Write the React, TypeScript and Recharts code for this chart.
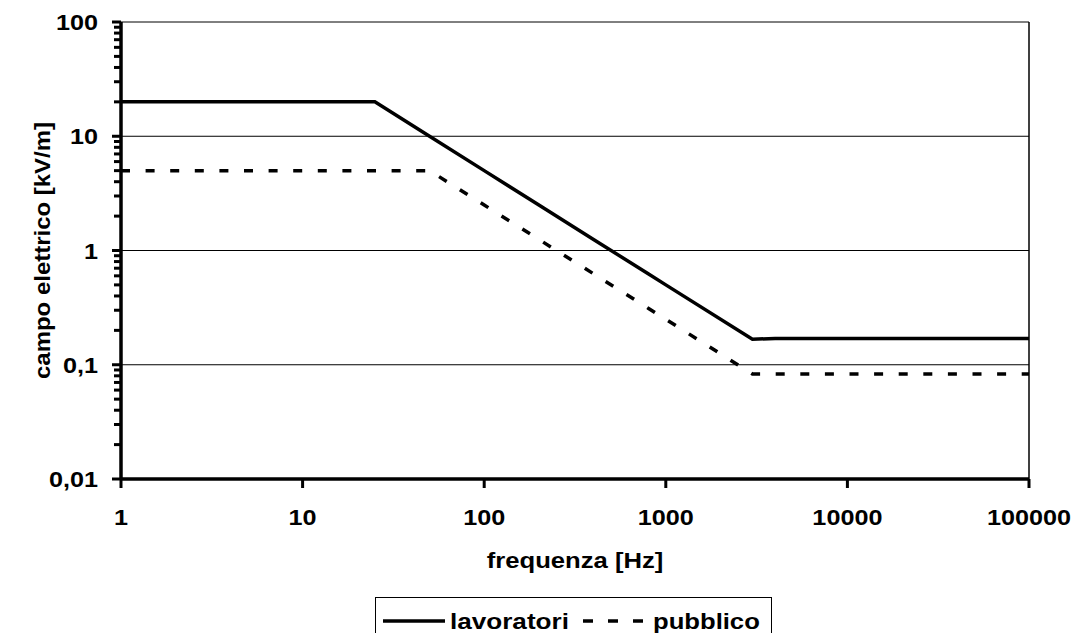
import React from 'react';
import { LineChart, Line, XAxis, YAxis, ReferenceLine } from 'recharts';

// ---- data ----
const frequencies = [1, 25, 50, 100, 200, 400, 800, 1000, 3000, 4000, 100000];
const lavoratori = [20, 20, 10, 5, 2.5, 1.25, 0.625, 0.5, 0.167, 0.17, 0.17];
const pubblico = [5, 5, 5, 2.5, 1.25, 0.625, 0.3125, 0.25, 0.083, 0.083, 0.083];
const seriesNames = ['lavoratori', 'pubblico'];
const xTicks = [1, 10, 100, 1000, 10000, 100000];
const yMajorTicks = [0.01, 0.1, 1, 10, 100];
const yMinorMultipliers = [2, 3, 4, 5, 6, 7, 8, 9];
const gridValues = [0.1, 1, 10, 100];
const xTitle = 'frequenza [Hz]';
const yTitle = 'campo elettrico [kV/m]';

const data = frequencies.map((f, i) => ({ f, lav: lavoratori[i], pub: pubblico[i] }));

const yAllTicks: number[] = [];
yMajorTicks.forEach((t, i) => {
  yAllTicks.push(t);
  if (i < yMajorTicks.length - 1) {
    yMinorMultipliers.forEach((m) => yAllTicks.push(parseFloat((t * m).toPrecision(6))));
  }
});

const FONT = '"Liberation Sans", Arial, Helvetica, sans-serif';
const FS = 22.5;
const SX = 1.12;

const isMajor = (v: number) => yMajorTicks.some((t) => Math.abs(t - v) / t < 1e-6);
const fmt = (v: number) => String(v).replace('.', ',');

const YTick = (props: any) => {
  const { x, y, payload } = props;
  const v = payload.value;
  const major = isMajor(v);
  return (
    <g>
      <line x1={x - (major ? 9 : 7)} x2={x} y1={y} y2={y} stroke="#000" strokeWidth={3} />
      {major && (
        <text
          transform={`translate(${x - 23},${y + 8}) scale(${SX},1)`}
          textAnchor="end"
          fontFamily={FONT}
          fontWeight="bold"
          fontSize={FS}
          fill="#000"
        >
          {fmt(v)}
        </text>
      )}
    </g>
  );
};

const XTick = (props: any) => {
  const { x, y, payload } = props;
  return (
    <g>
      <line x1={x} x2={x} y1={y} y2={y + 9} stroke="#000" strokeWidth={3} />
      <text
        transform={`translate(${x},${y + 46}) scale(${SX},1)`}
        textAnchor="middle"
        fontFamily={FONT}
        fontWeight="bold"
        fontSize={FS}
        fill="#000"
      >
        {String(payload.value)}
      </text>
    </g>
  );
};

const XTitle = (props: any) => {
  const vb = props.viewBox || {};
  const cx = vb.x + vb.width / 2;
  return (
    <text
      transform={`translate(${cx},${vb.y + 89}) scale(1.14,1)`}
      textAnchor="middle"
      fontFamily={FONT}
      fontWeight="bold"
      fontSize={FS}
      fill="#000"
    >
      {xTitle}
    </text>
  );
};

const YTitle = (props: any) => {
  const vb = props.viewBox || {};
  const cy = vb.y + vb.height / 2;
  return (
    <text
      transform={`translate(50,${cy}) rotate(-90) scale(1.065,1)`}
      textAnchor="middle"
      fontFamily={FONT}
      fontWeight="bold"
      fontSize={FS}
      fill="#000"
    >
      {yTitle}
    </text>
  );
};

const LegendBox = () => (
  <div
    style={{
      position: 'absolute',
      left: 375,
      top: 597,
      width: 397,
      height: 36,
      boxSizing: 'border-box',
      borderTop: '1.5px solid #000',
      borderLeft: '1.5px solid #000',
      borderRight: '1.5px solid #000',
      background: '#fff',
    }}
  >
    <svg width={394} height={35} style={{ position: 'absolute', left: 0, top: 0 }}>
      <line x1={7} x2={69} y1={23} y2={23} stroke="#000" strokeWidth={3.5} />
      <text
        transform={`translate(74,31) scale(1.16,1)`}
        fontFamily={FONT}
        fontWeight="bold"
        fontSize={FS}
        fill="#000"
      >
        {seriesNames[0]}
      </text>
      <line x1={207} x2={267} y1={23} y2={23} stroke="#000" strokeWidth={3.5} strokeDasharray="10 15" />
      <text
        transform={`translate(277,31) scale(1.14,1)`}
        fontFamily={FONT}
        fontWeight="bold"
        fontSize={FS}
        fill="#000"
      >
        {seriesNames[1]}
      </text>
    </svg>
  </div>
);

export default function App() {
  return (
    <div style={{ position: 'absolute', left: 0, top: 0, width: 1077, height: 633, background: '#fff', overflow: 'hidden' }}>
      <LineChart width={1077} height={633} data={data} margin={{ top: 22, right: 48, bottom: 0, left: 0 }}>
        <XAxis
          dataKey="f"
          type="number"
          scale="log"
          domain={[1, 100000]}
          ticks={xTicks}
          interval={0}
          allowDataOverflow
          height={154}
          tickSize={0}
          tickMargin={0}
          tickLine={false}
          axisLine={{ stroke: '#000', strokeWidth: 3.5 }}
          tick={<XTick />}
          label={<XTitle />}
        />
        <YAxis
          type="number"
          scale="log"
          domain={[0.01, 100]}
          ticks={yAllTicks}
          interval={0}
          allowDataOverflow
          width={121}
          tickSize={0}
          tickMargin={0}
          tickLine={false}
          axisLine={{ stroke: '#000', strokeWidth: 3.5 }}
          tick={<YTick />}
          label={<YTitle />}
        />
        {gridValues.map((g) => (
          <ReferenceLine key={g} y={g} stroke="#000" strokeWidth={1} ifOverflow="extendDomain" />
        ))}
        <ReferenceLine x={100000} stroke="#000" strokeWidth={1.5} ifOverflow="extendDomain" />
        <Line
          type="linear"
          dataKey="lav"
          name={seriesNames[0]}
          stroke="#000"
          strokeWidth={3.5}
          dot={false}
          isAnimationActive={false}
        />
        <Line
          type="linear"
          dataKey="pub"
          name={seriesNames[1]}
          stroke="#000"
          strokeWidth={3.5}
          strokeDasharray="9 15.6"
          dot={false}
          isAnimationActive={false}
        />
      </LineChart>
      <LegendBox />
    </div>
  );
}
